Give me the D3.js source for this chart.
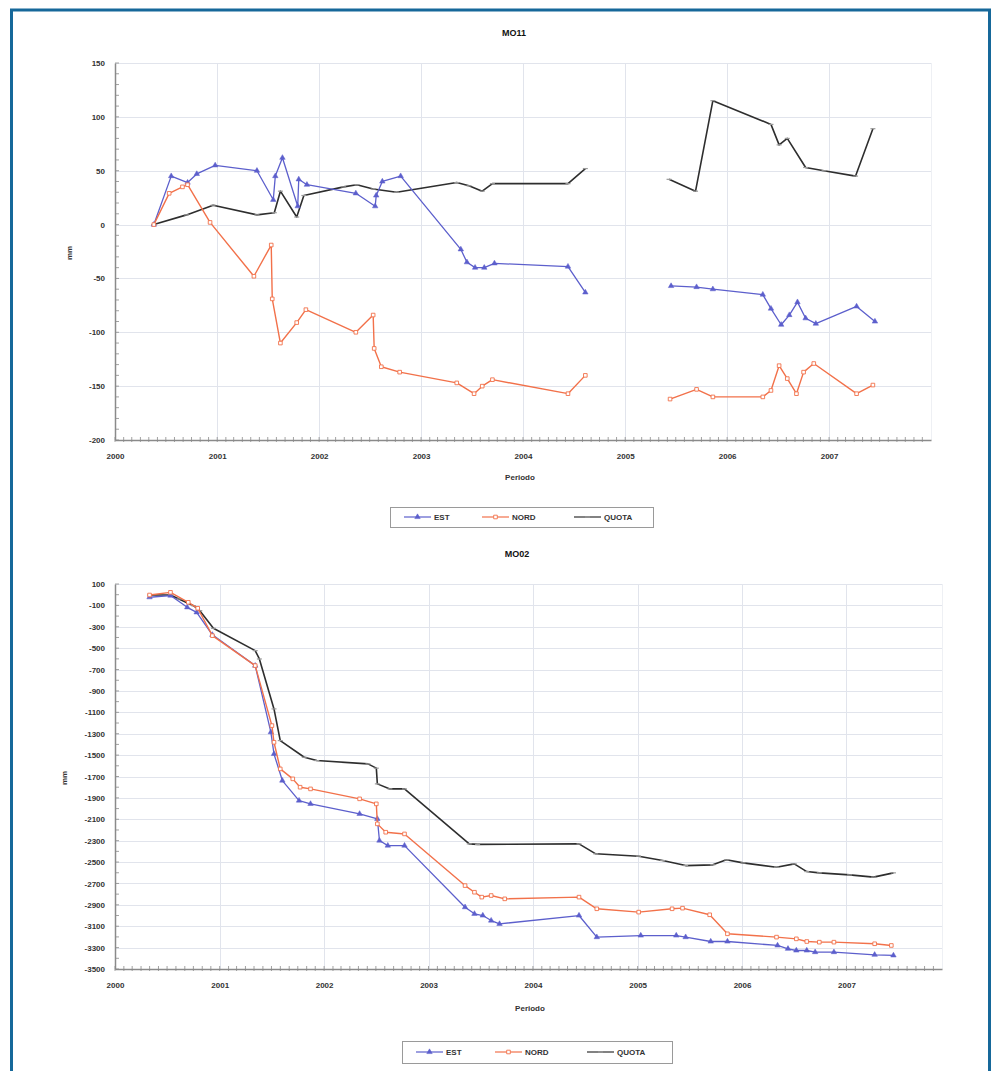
<!DOCTYPE html>
<html>
<head>
<meta charset="utf-8">
<title>MO11 / MO02</title>
<script src="https://d3js.org/d3.v7.min.js"></script>
<style>
    body { margin: 0; padding: 0; background: #fff; font-family: "Liberation Sans", Arial, sans-serif; }
    svg text { font-family: "Liberation Sans", Arial, sans-serif; }
</style>
</head>
<body>
<script>
// MO11 - dates as decimal years, null = gap in the record
const mo11EstDates = [2000.38, 2000.55, 2000.71, 2000.80, 2000.98, 2001.39, 2001.55, 2001.57, 2001.64, 2001.79, 2001.80, 2001.88, 2002.36, 2002.55, 2002.56, 2002.62, 2002.80, 2003.39, 2003.45, 2003.53, 2003.62, 2003.72, 2004.44, 2004.61, 2005.0, 2005.45, 2005.70, 2005.86, 2006.35, 2006.43, 2006.53, 2006.61, 2006.69, 2006.77, 2006.87, 2007.27, 2007.45];
const mo11EstValues = [0, 45, 39, 47, 55, 50, 23, 45, 62, 17, 42, 37, 29, 17, 27, 40, 45, -23, -35, -40, -40, -36, -39, -63, null, -57, -58, -60, -65, -78, -93, -84, -72, -87, -92, -76, -90];

const mo11NordDates = [2000.38, 2000.53, 2000.66, 2000.71, 2000.93, 2001.36, 2001.53, 2001.54, 2001.62, 2001.78, 2001.87, 2002.36, 2002.53, 2002.54, 2002.61, 2002.79, 2003.35, 2003.52, 2003.60, 2003.70, 2004.44, 2004.61, 2005.0, 2005.44, 2005.70, 2005.86, 2006.35, 2006.43, 2006.51, 2006.59, 2006.68, 2006.75, 2006.85, 2007.27, 2007.43];
const mo11NordValues = [0, 29, 35, 37, 2, -48, -19, -69, -110, -91, -79, -100, -84, -115, -132, -137, -147, -157, -150, -144, -157, -140, null, -162, -153, -160, -160, -154, -131, -143, -157, -137, -129, -157, -149];

const mo11QuotaDates = [2000.38, 2000.70, 2000.96, 2001.39, 2001.56, 2001.62, 2001.78, 2001.85, 2002.24, 2002.37, 2002.53, 2002.76, 2003.35, 2003.47, 2003.60, 2003.70, 2004.44, 2004.61, 2005.0, 2005.43, 2005.69, 2005.86, 2006.43, 2006.51, 2006.59, 2006.77, 2006.95, 2007.26, 2007.43];
const mo11QuotaValues = [0, 9, 18, 9, 11, 31, 7, 27, 35, 37, 33, 30, 39, 36, 31, 38, 38, 52, null, 42, 31, 115, 93, 74, 80, 53, 50, 45, 89];

// MO02
const mo02EstDates = [2000.33, 2000.53, 2000.69, 2000.78, 2000.93, 2001.34, 2001.49, 2001.52, 2001.60, 2001.76, 2001.87, 2002.34, 2002.51, 2002.53, 2002.61, 2002.77, 2003.35, 2003.44, 2003.52, 2003.60, 2003.68, 2004.44, 2004.61, 2005.03, 2005.37, 2005.46, 2005.70, 2005.86, 2006.34, 2006.44, 2006.52, 2006.62, 2006.70, 2006.88, 2007.27, 2007.45];
const mo02EstValues = [-24, -8, -118, -165, -375, -663, -1286, -1489, -1738, -1925, -1956, -2049, -2096, -2299, -2346, -2346, -2922, -2984, -3000, -3047, -3078, -3000, -3202, -3187, -3187, -3202, -3243, -3243, -3280, -3311, -3327, -3327, -3342, -3342, -3367, -3373];

const mo02NordDates = [2000.33, 2000.53, 2000.70, 2000.79, 2000.93, 2001.34, 2001.50, 2001.52, 2001.58, 2001.70, 2001.77, 2001.87, 2002.34, 2002.50, 2002.51, 2002.59, 2002.77, 2003.35, 2003.44, 2003.51, 2003.60, 2003.73, 2004.44, 2004.61, 2005.01, 2005.33, 2005.43, 2005.69, 2005.86, 2006.33, 2006.52, 2006.62, 2006.74, 2006.88, 2007.27, 2007.43];
const mo02NordValues = [-3, 22, -71, -127, -383, -663, -1224, -1380, -1629, -1722, -1800, -1816, -1909, -1956, -2143, -2221, -2237, -2720, -2782, -2828, -2813, -2844, -2828, -2937, -2968, -2937, -2931, -2993, -3171, -3202, -3218, -3243, -3249, -3249, -3264, -3280];

const mo02QuotaDates = [2000.33, 2000.53, 2000.61, 2000.75, 2000.81, 2000.94, 2001.34, 2001.38, 2001.52, 2001.58, 2001.81, 2001.93, 2002.42, 2002.50, 2002.51, 2002.63, 2002.77, 2003.39, 2003.47, 2004.44, 2004.60, 2005.01, 2005.24, 2005.46, 2005.72, 2005.85, 2006.01, 2006.33, 2006.50, 2006.62, 2006.74, 2007.03, 2007.26, 2007.45];
const mo02QuotaValues = [-3, -3, -40, -103, -150, -314, -523, -601, -1068, -1364, -1520, -1551, -1582, -1622, -1769, -1816, -1816, -2330, -2335, -2330, -2423, -2445, -2486, -2533, -2526, -2479, -2508, -2548, -2517, -2589, -2601, -2620, -2641, -2601];

// Axis ticks
const yearTicks = [2000, 2001, 2002, 2003, 2004, 2005, 2006, 2007];
const mo11YTicks = [150, 100, 50, 0, -50, -100, -150, -200];
const mo02YTicks = [100, -100, -300, -500, -700, -900, -1100, -1300, -1500, -1700, -1900, -2100, -2300, -2500, -2700, -2900, -3100, -3300, -3500];
const seriesNames = ["EST", "NORD", "QUOTA"];

// Colours
const EST_COLOR = "#5c5fcc";
const NORD_COLOR = "#f2714a";
const QUOTA_COLOR = "#2e2e2e";
const GRID_COLOR = "#e1e4ec";
const AXIS_COLOR = "#8a8a8a";
const TEXT_COLOR = "#333";

// decimal year -> Date
function toDate(y) {
    const yr = Math.floor(y);
    const start = new Date(yr, 0, 1).getTime();
    const end = new Date(yr + 1, 0, 1).getTime();
    return new Date(start + (y - yr) * (end - start));
}

function zip(dates, values) {
    return dates.map((d, i) => ({ date: toDate(d), value: values[i] }));
}

const svg = d3.select("body").append("svg")
    .attr("width", 993)
    .attr("height", 1071);

svg.append("rect").attr("width", 993).attr("height", 1071).attr("fill", "#fff");

// blue frame round the page
svg.append("rect")
    .attr("x", 11.5).attr("y", 10)
    .attr("width", 978).attr("height", 1090)
    .attr("fill", "none")
    .attr("stroke", "#16689a")
    .attr("stroke-width", 3);

function drawMarker(g, type, color, x, y) {
    if (type === "triangle") {
        g.append("path")
            .attr("d", d3.symbol(d3.symbolTriangle, 13)())
            .attr("transform", `translate(${x},${y})`)
            .attr("fill", color)
            .attr("stroke", color)
            .attr("stroke-width", 0.5);
    } else if (type === "square") {
        g.append("path")
            .attr("d", d3.symbol(d3.symbolSquare, 13)())
            .attr("transform", `translate(${x},${y})`)
            .attr("fill", "#fff")
            .attr("stroke", color)
            .attr("stroke-width", 0.9);
    } else if (type === "dash") {
        g.append("line")
            .attr("x1", x - 2.5).attr("x2", x + 2.5)
            .attr("y1", y).attr("y2", y)
            .attr("stroke", "#9a9a9a")
            .attr("stroke-width", 1.2);
    }
}

function drawChart(cfg) {
    const g = svg.append("g");

    const x = d3.scaleTime()
        .domain([new Date(2000, 0, 1), cfg.xEnd])
        .range([cfg.left, cfg.right]);
    const y = d3.scaleLinear()
        .domain(cfg.yDomain)
        .range([cfg.bottom, cfg.top]);

    // grid
    g.append("g").selectAll("line")
        .data(cfg.yTicks)
        .join("line")
        .attr("x1", cfg.left).attr("x2", cfg.right)
        .attr("y1", d => Math.round(y(d)) + 0.5).attr("y2", d => Math.round(y(d)) + 0.5)
        .attr("stroke", GRID_COLOR).attr("stroke-width", 1);
    g.append("g").selectAll("line")
        .data(yearTicks.slice(1))
        .join("line")
        .attr("x1", d => Math.round(x(new Date(d, 0, 1))) + 0.5)
        .attr("x2", d => Math.round(x(new Date(d, 0, 1))) + 0.5)
        .attr("y1", cfg.top).attr("y2", cfg.bottom)
        .attr("stroke", GRID_COLOR).attr("stroke-width", 1);
    g.append("line")
        .attr("x1", cfg.right + 0.5).attr("x2", cfg.right + 0.5)
        .attr("y1", cfg.top).attr("y2", cfg.bottom)
        .attr("stroke", "#eef0f4");

    // x axis: years with monthly minor ticks
    const xAxis = d3.axisBottom(x)
        .tickValues(yearTicks.map(d => new Date(d, 0, 1)))
        .tickFormat(d3.timeFormat("%Y"))
        .tickSize(0)
        .tickPadding(13);
    const xg = g.append("g")
        .attr("transform", `translate(0,${cfg.bottom})`)
        .call(xAxis);
    xg.select(".domain").attr("stroke", AXIS_COLOR).attr("stroke-width", 1.5);
    xg.selectAll("text")
        .attr("fill", TEXT_COLOR).attr("font-size", 8).attr("font-weight", "bold");
    const months = d3.timeMonth.range(new Date(2000, 0, 1), cfg.xEnd);
    xg.append("g").selectAll("line")
        .data(months)
        .join("line")
        .attr("x1", d => x(d)).attr("x2", d => x(d))
        .attr("y1", -3).attr("y2", 2)
        .attr("stroke", AXIS_COLOR).attr("stroke-width", 0.8);

    // y axis (plain hyphen minus, no thousands separator)
    const yAxis = d3.axisLeft(y)
        .tickValues(cfg.yTicks)
        .tickFormat(d => String(d))
        .tickSize(0)
        .tickPadding(10);
    const yg = g.append("g")
        .attr("transform", `translate(${cfg.left},0)`)
        .call(yAxis);
    yg.select(".domain").attr("stroke", AXIS_COLOR).attr("stroke-width", 1.5);
    yg.selectAll("text")
        .attr("fill", TEXT_COLOR).attr("font-size", 8).attr("font-weight", "bold");
    yg.append("g").selectAll("line")
        .data(d3.range(cfg.yDomain[0], cfg.yDomain[1] + 0.001, cfg.yMinor))
        .join("line")
        .attr("x1", 0).attr("x2", 4)
        .attr("y1", d => y(d)).attr("y2", d => y(d))
        .attr("stroke", AXIS_COLOR).attr("stroke-width", 0.8);

    // titles
    g.append("text")
        .attr("x", cfg.titleX).attr("y", cfg.titleY)
        .attr("text-anchor", "middle")
        .attr("font-size", 9).attr("font-weight", "bold").attr("fill", "#111")
        .text(cfg.title);
    g.append("text")
        .attr("x", cfg.xLabelX).attr("y", cfg.xLabelY)
        .attr("text-anchor", "middle")
        .attr("font-size", 8).attr("font-weight", "bold").attr("fill", TEXT_COLOR)
        .text("Periodo");
    g.append("text")
        .attr("transform", `translate(${cfg.yLabelX},${cfg.yLabelY}) rotate(-90)`)
        .attr("text-anchor", "middle")
        .attr("font-size", 8).attr("font-weight", "bold").attr("fill", TEXT_COLOR)
        .text("mm");

    // series
    const line = d3.line()
        .defined(d => d.value !== null)
        .x(d => x(d.date))
        .y(d => y(d.value));

    const styles = [
        { color: EST_COLOR, width: 1.3, marker: "triangle" },
        { color: NORD_COLOR, width: 1.4, marker: "square" },
        { color: QUOTA_COLOR, width: 1.6, marker: "dash" }
    ];

    // draw QUOTA first so coloured series sit on top
    [2, 0, 1].forEach(i => {
        const data = cfg.series[i];
        const st = styles[i];
        g.append("path")
            .datum(data)
            .attr("fill", "none")
            .attr("stroke", st.color)
            .attr("stroke-width", st.width)
            .attr("stroke-linejoin", "round")
            .attr("d", line);
        const mg = g.append("g");
        data.filter(d => d.value !== null).forEach(d => {
            drawMarker(mg, st.marker, st.color, x(d.date), y(d.value));
        });
    });

    // legend
    const lg = g.append("g");
    lg.append("rect")
        .attr("x", cfg.legend.x + 0.5).attr("y", cfg.legend.y + 0.5)
        .attr("width", cfg.legend.w).attr("height", cfg.legend.h)
        .attr("fill", "#fff").attr("stroke", "#9a9a9a").attr("stroke-width", 1);
    const cy = cfg.legend.y + cfg.legend.h / 2;
    seriesNames.forEach((name, i) => {
        const sx = cfg.legend.items[i];
        const st = styles[i];
        lg.append("line")
            .attr("x1", sx).attr("x2", sx + 27)
            .attr("y1", cy).attr("y2", cy)
            .attr("stroke", st.color)
            .attr("stroke-width", 1.2);
        drawMarker(lg, st.marker, st.color, sx + 13.5, cy);
        lg.append("text")
            .attr("x", sx + 30).attr("y", cy)
            .attr("dy", "0.35em")
            .attr("font-size", 8).attr("font-weight", "bold").attr("fill", TEXT_COLOR)
            .text(name);
    });
}

drawChart({
    title: "MO11",
    titleX: 514, titleY: 36,
    left: 115, right: 931, top: 63, bottom: 440,
    xEnd: new Date(2008, 0, 1),
    yDomain: [-200, 150], yTicks: mo11YTicks, yMinor: 10,
    xLabelX: 520, xLabelY: 480,
    yLabelX: 72, yLabelY: 253,
    legend: { x: 390, y: 507, w: 263, h: 20, items: [404, 482, 574] },
    series: [zip(mo11EstDates, mo11EstValues), zip(mo11NordDates, mo11NordValues), zip(mo11QuotaDates, mo11QuotaValues)]
});

drawChart({
    title: "MO02",
    titleX: 517, titleY: 557,
    left: 115, right: 942, top: 584, bottom: 969,
    xEnd: new Date(2007, 11, 1),
    yDomain: [-3500, 100], yTicks: mo02YTicks, yMinor: 100,
    xLabelX: 530, xLabelY: 1011,
    yLabelX: 67, yLabelY: 778,
    legend: { x: 402, y: 1041, w: 270, h: 22, items: [416, 495, 587] },
    series: [zip(mo02EstDates, mo02EstValues), zip(mo02NordDates, mo02NordValues), zip(mo02QuotaDates, mo02QuotaValues)]
});
</script>
</body>
</html>
